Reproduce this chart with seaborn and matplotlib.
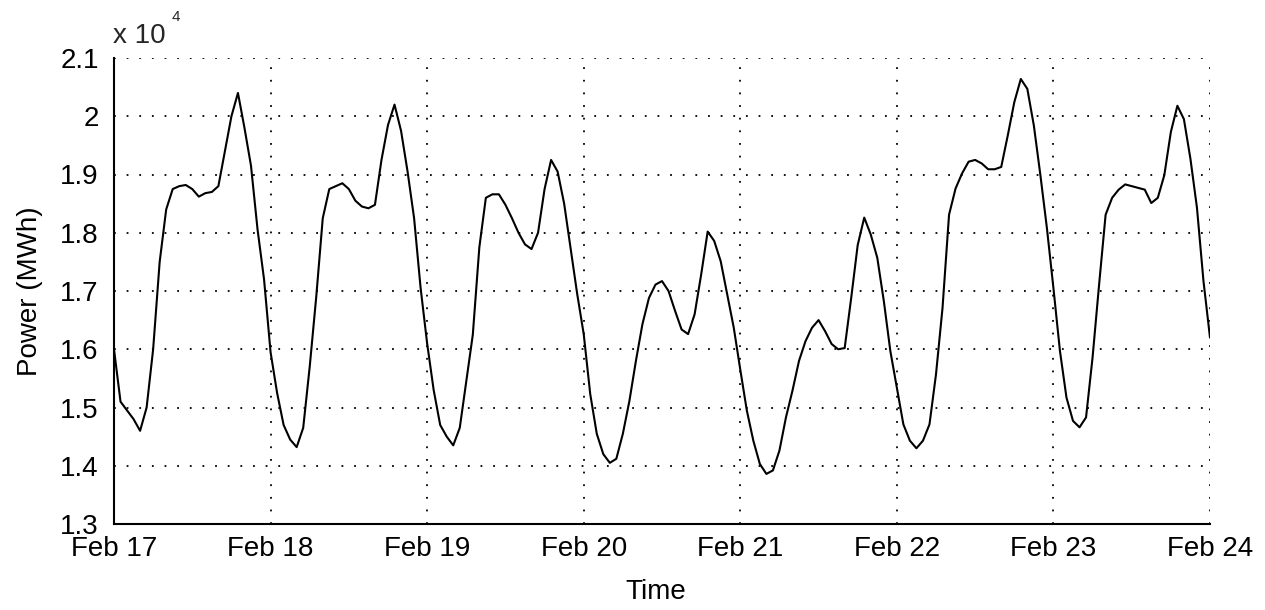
import pandas as pd
import matplotlib.pyplot as plt
import seaborn as sns

# hourly power demand, in units of 10^4 MWh
feb17 = [1.60, 1.51, 1.495, 1.48, 1.46, 1.50, 1.60, 1.75, 1.84, 1.875, 1.88, 1.882,
         1.875, 1.862, 1.868, 1.87, 1.88, 1.94, 2.00, 2.04, 1.98, 1.915, 1.806, 1.72]
feb18 = [1.595, 1.525, 1.47, 1.445, 1.432, 1.465, 1.57, 1.69, 1.825, 1.875, 1.88, 1.885,
         1.875, 1.855, 1.845, 1.842, 1.848, 1.925, 1.985, 2.02, 1.975, 1.905, 1.825, 1.705]
feb19 = [1.61, 1.53, 1.47, 1.45, 1.435, 1.465, 1.545, 1.625, 1.775, 1.86, 1.866, 1.866,
         1.848, 1.825, 1.80, 1.78, 1.772, 1.80, 1.875, 1.925, 1.905, 1.85, 1.772, 1.695]
feb20 = [1.626, 1.523, 1.455, 1.42, 1.405, 1.412, 1.455, 1.511, 1.58, 1.643, 1.688, 1.711,
         1.717, 1.70, 1.666, 1.634, 1.626, 1.66, 1.728, 1.802, 1.786, 1.751, 1.694, 1.637]
feb21 = [1.565, 1.495, 1.443, 1.403, 1.386, 1.392, 1.426, 1.483, 1.529, 1.58, 1.614, 1.637,
         1.65, 1.631, 1.609, 1.60, 1.602, 1.688, 1.779, 1.826, 1.797, 1.757, 1.683, 1.597]
feb22 = [1.534, 1.471, 1.443, 1.43, 1.443, 1.471, 1.557, 1.671, 1.831, 1.876, 1.902, 1.922,
         1.925, 1.919, 1.909, 1.909, 1.913, 1.967, 2.024, 2.064, 2.047, 1.984, 1.899, 1.808]
feb23 = [1.705, 1.597, 1.517, 1.477, 1.466, 1.483, 1.586, 1.711, 1.831, 1.86, 1.874, 1.883,
         1.88, 1.877, 1.874, 1.851, 1.86, 1.899, 1.973, 2.018, 1.995, 1.927, 1.843, 1.717]
feb24 = [1.62]

day_labels = ['Feb 17', 'Feb 18', 'Feb 19', 'Feb 20', 'Feb 21', 'Feb 22', 'Feb 23', 'Feb 24']
y_ticks = [1.3, 1.4, 1.5, 1.6, 1.7, 1.8, 1.9, 2.0, 2.1]
y_tick_labels = ['1.3', '1.4', '1.5', '1.6', '1.7', '1.8', '1.9', '2', '2.1']

power = feb17 + feb18 + feb19 + feb20 + feb21 + feb22 + feb23 + feb24
time = pd.date_range('2000-02-17', periods=len(power), freq='h')
df = pd.DataFrame({'Time': time, 'Power': power})

sns.set_style('white')
plt.rcParams['font.family'] = ['Liberation Sans', 'DejaVu Sans']

fig = plt.figure(figsize=(12.65, 6.1), dpi=100)
ax = fig.add_axes([114 / 1265, 86 / 610, 1096 / 1265, 466 / 610])
sns.lineplot(data=df, x='Time', y='Power', color='black', linewidth=1.5, ax=ax)

ax.set_xlim(time[0], time[-1])
ax.set_ylim(1.3, 2.1)
ax.set_xticks(pd.date_range('2000-02-17', periods=len(day_labels), freq='D'))
ax.set_xticklabels(day_labels)
ax.set_yticks(y_ticks)
ax.set_yticklabels(y_tick_labels)

# matlab-like dotted grid
ax.grid(True, color='black', linestyle=(0, (1, 6)), linewidth=1.3)
for side in ['top', 'right']:
    ax.spines[side].set_visible(False)
for side in ['left', 'bottom']:
    ax.spines[side].set_color('black')
    ax.spines[side].set_linewidth(1.5)

ax.tick_params(direction='in', length=6.5, width=1, color='black', labelsize=20,
               labelcolor='black')
ax.tick_params(axis='y', pad=11)
ax.tick_params(axis='x', pad=9)

ax.set_ylabel('Power (MWh)', fontsize=20, color='black')
ax.yaxis.set_label_coords(-0.065, 0.5)
ax.set_xlabel('Time', fontsize=20, color='black')
ax.xaxis.set_label_coords(0.4945, -0.118)

fig.text(113 / 1265, (610 - 43) / 610, 'x 10', fontsize=20, va='baseline')
fig.text(172 / 1265, (610 - 21) / 610, '4', fontsize=11, va='baseline')

fig.savefig('out.png', dpi=100)
